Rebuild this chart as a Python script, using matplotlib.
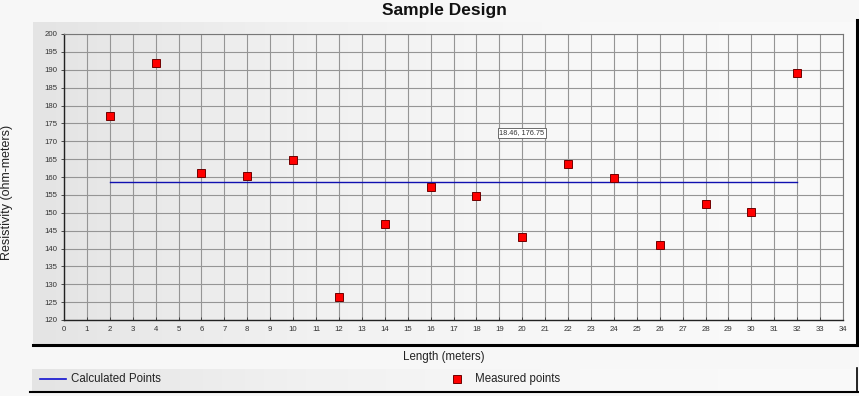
import matplotlib
matplotlib.use("Agg")
import matplotlib.pyplot as plt
import numpy as np
from matplotlib.lines import Line2D
from matplotlib.colors import LinearSegmentedColormap

# ---- data ----
measured_x = [2, 4, 6, 8, 10, 12, 14, 16, 18, 20, 22, 24, 26, 28, 30, 32]
measured_y = [177.0, 192.0, 161.0, 160.2, 164.8, 126.5, 146.8, 157.3,
              154.6, 143.2, 163.5, 159.8, 141.0, 152.5, 150.3, 189.0]
calc_x = [2, 32]
calc_y = [158.6, 158.6]
x_ticks = list(range(0, 35))
y_ticks = list(range(120, 201, 5))
annotation_text = "18.46, 176.75"

W, H = 859, 396
fig = plt.figure(figsize=(W / 100, H / 100), dpi=100)
fig.patch.set_facecolor("#f7f7f7")
plt.rcParams['font.family'] = ['Liberation Sans', 'DejaVu Sans']

def fx(px):
    return px / W

def fy(py):
    return 1 - py / H

grad = np.linspace(0, 1, 256).reshape(1, -1)
cmap = LinearSegmentedColormap.from_list("g", ["#e4e4e4", "#f1f1f1", "#f8f8f8", "#fafafa"])

# panel background with gradient
bg = fig.add_axes([fx(33), fy(345), fx(857 - 33), (345 - 22) / H])
bg.imshow(grad, aspect="auto", cmap=cmap, extent=[0, 1, 0, 1])
bg.set_xlim(0, 1)
bg.set_ylim(0, 1)
bg.axis("off")

# shadow lines of panel
fig.add_artist(Line2D([fx(33), fx(857)], [fy(345), fy(345)], color="black", lw=2.2))
fig.add_artist(Line2D([fx(857), fx(857)], [fy(345), fy(20)], color="black", lw=2.2))

# legend panel
lg = fig.add_axes([fx(32), fy(391), fx(857 - 32), (391 - 369) / H])
lg.imshow(grad, aspect="auto", cmap=cmap, extent=[0, 1, 0, 1])
lg.set_xlim(0, 1)
lg.set_ylim(0, 1)
lg.axis("off")
fig.add_artist(Line2D([fx(30), fx(858)], [fy(392), fy(392)], color="black", lw=1.5))
fig.add_artist(Line2D([fx(857), fx(857)], [fy(392), fy(368)], color="black", lw=1.2))

# main axes
ax = fig.add_axes([fx(64), fy(320), fx(843 - 64), (320 - 34) / H])
ax.set_facecolor("none")
ax.set_xlim(0, 34)
ax.set_ylim(120, 200)
ax.set_xticks(x_ticks)
ax.set_yticks(y_ticks)
ax.grid(True, color="#959595", lw=0.8)
ax.set_axisbelow(True)
ax.tick_params(axis="both", labelsize=5.6, length=2, width=0.6, colors="#333333", pad=3)
ax.tick_params(axis="x", direction="in", pad=4)
for s in ["left", "bottom"]:
    ax.spines[s].set_color("#222222")
    ax.spines[s].set_linewidth(1.0)
for s in ["top", "right"]:
    ax.spines[s].set_color("#777777")
    ax.spines[s].set_linewidth(0.8)

ax.plot(calc_x, calc_y, color="#1010b0", lw=1.0, zorder=3)
ax.plot(measured_x, measured_y, linestyle="none", marker="s", markersize=6.3,
        markerfacecolor="#ff0000", markeredgecolor="#700000", markeredgewidth=0.7, zorder=4)

ax.text(19.0, 172.3, annotation_text, fontsize=5.3, color="#333333", va="center", ha="left",
        bbox=dict(boxstyle="square,pad=0.2", facecolor="white", edgecolor="#555555", lw=0.6),
        zorder=5)

# titles and labels
fig.text(fx(444), fy(10), "Sample Design", fontsize=12.5, fontweight="bold",
         ha="center", va="center", color="#111111")
fig.text(fx(7), fy(192), "Resistivity (ohm-meters)", fontsize=9, rotation=90,
         ha="center", va="center", color="#222222")
fig.text(fx(444), fy(357), "Length (meters)", fontsize=8.3, ha="center", va="center",
         color="#222222")

# legend contents
fig.add_artist(Line2D([fx(40), fx(66)], [fy(379), fy(379)], color="#1010d0", lw=1.2))
fig.text(fx(71), fy(379), "Calculated Points", fontsize=8.3, ha="left", va="center", color="#222222")
fig.add_artist(Line2D([fx(457)], [fy(379)], marker="s", markersize=6.3, linestyle="none",
                      markerfacecolor="#ff0000", markeredgecolor="#700000", markeredgewidth=0.7))
fig.text(fx(475), fy(379), "Measured points", fontsize=8.3, ha="left", va="center", color="#222222")

fig.savefig("out.png", dpi=100, facecolor=fig.get_facecolor())
